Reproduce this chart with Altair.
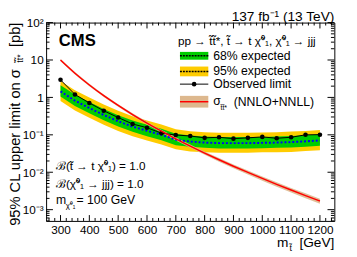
import altair as alt
import pandas as pd

FONT = "Liberation Sans"

# ---------------- data ----------------
mass = [300, 350, 400, 450, 500, 550, 600, 650, 700, 750, 800, 850, 900, 950, 1000, 1050, 1100, 1150, 1200]
observed = [2.95, 1.20, 0.71, 0.44, 0.29, 0.195, 0.155, 0.111, 0.099, 0.093, 0.083, 0.086, 0.079, 0.083, 0.088, 0.081, 0.086, 0.100, 0.101]
expected = [1.45, 0.82, 0.52, 0.34, 0.23, 0.166, 0.128, 0.100, 0.074, 0.066, 0.062, 0.060, 0.060, 0.060, 0.061, 0.062, 0.064, 0.067, 0.071]
exp68_lo = [1.05, 0.59, 0.375, 0.245, 0.166, 0.120, 0.092, 0.072, 0.053, 0.048, 0.045, 0.043, 0.043, 0.043, 0.044, 0.045, 0.046, 0.048, 0.051]
exp68_hi = [2.10, 1.19, 0.755, 0.493, 0.334, 0.241, 0.186, 0.145, 0.107, 0.096, 0.090, 0.087, 0.087, 0.087, 0.088, 0.090, 0.093, 0.097, 0.103]
exp95_lo = [0.80, 0.45, 0.286, 0.187, 0.127, 0.091, 0.070, 0.055, 0.041, 0.036, 0.034, 0.033, 0.033, 0.033, 0.034, 0.034, 0.035, 0.037, 0.039]
exp95_hi = [2.75, 1.56, 0.99, 0.646, 0.437, 0.315, 0.243, 0.190, 0.141, 0.125, 0.118, 0.114, 0.114, 0.114, 0.116, 0.118, 0.122, 0.127, 0.135]
xsec = [10.0, 4.43, 2.15, 1.11, 0.609, 0.347, 0.205, 0.125, 0.0783, 0.0500, 0.0326, 0.0216, 0.0145, 0.00991, 0.00683, 0.00476, 0.00335, 0.00238, 0.00170]
xsec_hi = [10.7, 4.75, 2.31, 1.20, 0.657, 0.376, 0.223, 0.136, 0.0856, 0.0549, 0.0360, 0.0240, 0.0162, 0.0111, 0.00771, 0.00540, 0.00382, 0.00273, 0.00196]
xsec_lo = [9.30, 4.11, 1.99, 1.02, 0.561, 0.318, 0.187, 0.114, 0.0710, 0.0451, 0.0292, 0.0192, 0.0128, 0.00871, 0.00595, 0.00412, 0.00288, 0.00203, 0.00144]

x_tick_labels = [300, 400, 500, 600, 700, 800, 900, 1000, 1100, 1200]
y_tick_values = [0.001, 0.01, 0.1, 1, 10, 100]

df = pd.DataFrame({
    "m": mass, "obs": observed, "exp": expected,
    "g_lo": exp68_lo, "g_hi": exp68_hi, "y_lo": exp95_lo, "y_hi": exp95_hi,
    "xs": xsec, "xs_lo": xsec_lo, "xs_hi": xsec_hi,
})

W, H = 295, 203
xscale = alt.Scale(domain=[250, 1250], nice=False, zero=False)
yscale = alt.Scale(type="log", domain=[5e-4, 100], nice=False)

xaxis = alt.Axis(values=x_tick_labels, tickSize=0, domain=False, grid=False, format="d",
                 labelOverlap=False, labelFont=FONT, labelFontSize=12, labelColor="black",
                 labelPadding=4, title=None)
yaxis = alt.Axis(values=y_tick_values, tickSize=0, domain=False, grid=False, labelOverlap=False,
                 labelFont=FONT, labelFontSize=12, labelColor="black", labelPadding=3, title=None,
                 labelExpr="datum.value >= 100 ? '10²' : datum.value >= 10 ? '10' : datum.value >= 1 ? '1' : datum.value >= 0.1 ? '10⁻¹' : datum.value >= 0.01 ? '10⁻²' : '10⁻³'")


def X(f):
    return alt.X(f, type="quantitative", scale=xscale, axis=xaxis)


def Y(f):
    return alt.Y(f, type="quantitative", scale=yscale, axis=yaxis)


base = alt.Chart(df)
band95 = base.mark_area(color="#FFCC00").encode(x=X("m"), y=Y("y_lo"), y2="y_hi")
band68 = base.mark_area(color="#00CC00").encode(x=X("m"), y=Y("g_lo"), y2="g_hi")
xsband = base.mark_area(color="#DDB88E", opacity=0.9).encode(x=X("m"), y=Y("xs_lo"), y2="xs_hi")
xsline = base.mark_line(color="#FF0000", strokeWidth=1.5, interpolate="monotone").encode(x=X("m"), y=Y("xs"))
expline = base.mark_line(color="#0000FF", strokeWidth=2, strokeDash=[2, 2]).encode(x=X("m"), y=Y("exp"))
obsline = base.mark_line(color="black", strokeWidth=1).encode(x=X("m"), y=Y("obs"))
obspts = base.mark_point(color="black", filled=True, opacity=1, size=22).encode(x=X("m"), y=Y("obs"))

# ---- inward ticks (ROOT style) on all four sides ----
x_major = list(range(300, 1201, 100))
x_minor = [v for v in range(260, 1250, 20) if v % 100 != 0]
y_major = [0.001, 0.01, 0.1, 1, 10, 100]
y_minor = [k * 10.0 ** d for d in range(-4, 2) for k in range(2, 10) if 5e-4 <= k * 10.0 ** d <= 100]


def xticks(vals, L):
    d = alt.Chart(pd.DataFrame({"t": vals}))
    b = d.mark_rule(color="black", strokeWidth=1).encode(x=X("t"), y=alt.value(H), y2=alt.value(H - L))
    t = d.mark_rule(color="black", strokeWidth=1).encode(x=X("t"), y=alt.value(0), y2=alt.value(L))
    return [b, t]


def yticks(vals, L):
    d = alt.Chart(pd.DataFrame({"t": vals}))
    l = d.mark_rule(color="black", strokeWidth=1).encode(y=Y("t"), x=alt.value(0), x2=alt.value(L))
    r = d.mark_rule(color="black", strokeWidth=1).encode(y=Y("t"), x=alt.value(W), x2=alt.value(W - L))
    return [l, r]


ticks = xticks(x_major, 6) + xticks(x_minor, 3) + yticks(y_major, 7) + yticks(y_minor, 3.5)


def txt(s, x, y, size=12, align="left", baseline="middle", angle=0, weight="normal"):
    return alt.Chart(pd.DataFrame({"t": [s]})).mark_text(
        align=align, baseline=baseline, fontSize=size, font=FONT, fontWeight=weight,
        angle=angle, color="black").encode(x=alt.value(x), y=alt.value(y), text="t:N")


def rect(x1, x2, y1, y2, color):
    return alt.Chart(pd.DataFrame({"a": [0]})).mark_rect(color=color).encode(
        x=alt.value(x1), x2=alt.value(x2), y=alt.value(y1), y2=alt.value(y2))


def hline(x1, x2, y, color, width=1, dash=None):
    kw = dict(color=color, strokeWidth=width)
    if dash:
        kw["strokeDash"] = dash
    return alt.Chart(pd.DataFrame({"a": [0]})).mark_rule(**kw).encode(
        x=alt.value(x1), x2=alt.value(x2), y=alt.value(y))


tt = "t\u0303"
chi = "\u03c7\u0303"

texts = [
    txt("137 fb⁻¹ (13 TeV)", W, -6, size=14, align="right"),
    txt("CMS", 13, 19, size=17, weight="bold"),
    txt(f"pp → {tt}{tt}*, {tt} → t {chi}⁰₁,  {chi}⁰₁ → jjj", 135, 19, size=12),
    # legend
    rect(137, 166, 30, 38, "#00CC00"),
    hline(137, 166, 34, "black", 1.5, [2, 1]),
    txt("68% expected", 171, 34, size=12.5),
    rect(137, 166, 45, 55, "#FFCC00"),
    hline(137, 166, 50, "black", 1.5, [2, 1]),
    txt("95% expected", 171, 50, size=12.5),
    hline(137, 166, 63, "black", 1),
    alt.Chart(pd.DataFrame({"a": [0]})).mark_point(color="black", filled=True, opacity=1, size=22).encode(
        x=alt.value(151.5), y=alt.value(63)),
    txt("Observed limit", 171, 63, size=12.5),
    rect(137, 166, 75, 87, "#DDB88E"),
    hline(137, 166, 81, "#FF0000", 1.5),
    txt("σ", 171, 80, size=12.5),
    txt(f"{tt}{tt}*", 178.5, 87.5, size=7),
    txt("(NNLO+NNLL)", 192, 81, size=12.5),
    # annotations
    txt(f"ℬ({tt} → t {chi}⁰₁) = 1.0", 10, 147, size=12),
    txt(f"ℬ({chi}⁰₁ → jjj) = 1.0", 10, 165, size=12),
    txt("m", 10, 182, size=12.5),
    txt(f"{chi}⁰₁", 20, 188, size=8),
    txt("= 100 GeV", 31, 182, size=12.5),
    # x title
    txt("m", 248, 226, size=14, align="right"),
    txt(tt, 249, 231, size=9),
    txt("[GeV]", W, 226, size=14, align="right"),
    # y title (rotated, reading bottom to top)
    txt("95% CL upper limit on σ", -27, 208, size=15, angle=270, baseline="alphabetic"),
    txt(f"{tt}{tt}*", -24, 41, size=9, angle=270, baseline="alphabetic"),
    txt("[pb]", -27, 0, size=15, angle=270, baseline="alphabetic", align="right"),
]

chart = alt.layer(
    band95, band68, xsband, expline, obsline, obspts, xsline, *ticks, *texts
).properties(
    width=W, height=H,
    padding={"left": 39, "top": 12, "right": 15, "bottom": 34},
    autosize=alt.AutoSizeParams(type="none"),
).configure_view(stroke="black", strokeWidth=1)

chart.save("out.html", embed_options={"renderer": "svg", "actions": False})
